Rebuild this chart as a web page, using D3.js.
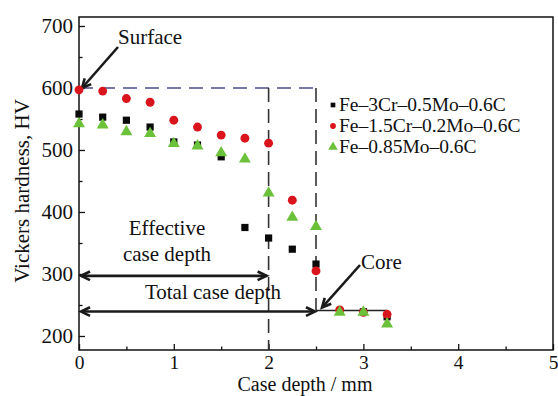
<!DOCTYPE html>
<html><head><meta charset="utf-8">
<script src="https://cdn.jsdelivr.net/npm/d3@7"></script>
<style>body{margin:0;background:#fff}svg{display:block}text{font-family:"Liberation Serif","Times New Roman",serif;fill:#111}</style>
</head><body><svg id="c" width="558" height="396"></svg>
<script>
const depth = [0,0.25,0.5,0.75,1.0,1.25,1.5,1.75,2.0,2.25,2.5,2.75,3.0,3.25];
const seriesNames = ["Fe\u20133Cr\u20130.5Mo\u20130.6C","Fe\u20131.5Cr\u20130.2Mo\u20130.6C","Fe\u20130.85Mo\u20130.6C"];
const hvCrMo = [558,553,548,537,513,508,489,375,358,340,316,240,239,231];
const hvCrMoLow = [597,595,583,577,548,537,524,519,511,419,305,242,238,235];
const hvMo = [544,542,531,528,512,508,497,487,432,393,378,240,240,221];
const xTicks = [0,1,2,3,4,5];
const yTicks = [200,300,400,500,600,700];
const surfaceHV = 600, effDepth = 2.0, totDepth = 2.5, coreHV = 241, coreEnd = 3.25, effArrowHV = 297;

const svg = d3.select("#c");
const L=79,R=553,T=17,B=350;
const x = d3.scaleLinear().domain([0,5]).range([L,R]);
const y = d3.scaleLinear().domain([177.4,714.5]).range([B,T]);

// frame
svg.append("rect").attr("x",L).attr("y",T).attr("width",R-L).attr("height",B-T).attr("fill","none").attr("stroke","#111").attr("stroke-width",1.5);

// axes
const xAxis = d3.axisBottom(x).tickValues(xTicks).tickSize(-6).tickPadding(0).tickFormat(d3.format("d"));
const gx = svg.append("g").attr("transform",`translate(0,${B})`).call(xAxis);
gx.select(".domain").remove();
gx.selectAll("text").attr("font-size",19.5).attr("y",19).attr("dy",0);
svg.append("g").attr("transform",`translate(0,${B})`).call(d3.axisBottom(x).tickValues(d3.range(0.5,5,1)).tickSize(-3.5).tickFormat(""))
  .select(".domain").remove();
const yAxis = d3.axisLeft(y).tickValues(yTicks).tickSize(-6).tickPadding(6);
const gy = svg.append("g").attr("transform",`translate(${L},0)`).call(yAxis);
gy.select(".domain").remove();
gy.selectAll("text").attr("font-size",21);
svg.append("g").attr("transform",`translate(${L},0)`).call(d3.axisLeft(y).tickValues([250,350,450,550,650]).tickSize(-3.5).tickFormat(""))
  .select(".domain").remove();
svg.selectAll(".tick line").attr("stroke","#111").attr("stroke-width",1.3);

svg.append("text").attr("x",(L+R)/2-11).attr("y",391).attr("text-anchor","middle").attr("font-size",20).text("Case depth / mm");
svg.append("text").attr("transform","translate(29,191) rotate(-90)").attr("text-anchor","middle").attr("font-size",21).text("Vickers hardness, HV");

// reference lines
svg.append("line").attr("x1",x(0)).attr("x2",x(totDepth)).attr("y1",y(surfaceHV)).attr("y2",y(surfaceHV))
  .attr("stroke","#4b4b86").attr("stroke-width",1.6).attr("stroke-dasharray","14,8");
svg.append("line").attr("x1",x(effDepth)).attr("x2",x(effDepth)).attr("y1",y(surfaceHV)).attr("y2",B)
  .attr("stroke","#333").attr("stroke-width",1.6).attr("stroke-dasharray","14,7");
svg.append("line").attr("x1",x(totDepth)).attr("x2",x(totDepth)).attr("y1",y(surfaceHV)).attr("y2",y(coreHV))
  .attr("stroke","#333").attr("stroke-width",1.6).attr("stroke-dasharray","14,7");
svg.append("line").attr("x1",x(totDepth)).attr("x2",x(coreEnd)).attr("y1",y(coreHV)).attr("y2",y(coreHV))
  .attr("stroke","#222").attr("stroke-width",1.5);

// arrows
function head(px,py,ang){
  const s=10,a=0.45;
  const p1=[px-s*Math.cos(ang-a),py-s*Math.sin(ang-a)];
  const p2=[px-s*Math.cos(ang+a),py-s*Math.sin(ang+a)];
  svg.append("path").attr("d",`M${p1}L${px},${py}L${p2}`).attr("fill","none").attr("stroke","#1a1a1a").attr("stroke-width",2.6).attr("stroke-linejoin","miter");
}
function arrow(x1,y1,x2,y2,both){
  svg.append("line").attr("x1",x1).attr("y1",y1).attr("x2",x2).attr("y2",y2).attr("stroke","#1a1a1a").attr("stroke-width",2.6);
  const ang=Math.atan2(y2-y1,x2-x1);
  head(x2,y2,ang);
  if(both) head(x1,y1,ang+Math.PI);
}
arrow(x(0)+2,y(effArrowHV),x(effDepth)-2,y(effArrowHV),true);
arrow(x(0)+2,y(coreHV)+1,x(totDepth)-1,y(coreHV)+1,true);
arrow(118,47,x(0)+3,y(surfaceHV));
arrow(360,265,x(totDepth)+6,y(coreHV)-3);

// annotation text
svg.append("text").attr("x",118).attr("y",44).attr("font-size",21).text("Surface");
svg.append("text").attr("x",167).attr("y",235).attr("text-anchor","middle").attr("font-size",21).text("Effective");
svg.append("text").attr("x",167).attr("y",261).attr("text-anchor","middle").attr("font-size",21).text("case depth");
svg.append("text").attr("x",213).attr("y",299).attr("text-anchor","middle").attr("font-size",21).text("Total case depth");
svg.append("text").attr("x",361).attr("y",269).attr("font-size",21).text("Core");

// markers
const sq = d3.symbol().type(d3.symbolSquare).size(52);
const ci = d3.symbol().type(d3.symbolCircle).size(62);
const tr = d3.symbol().type(d3.symbolTriangle).size(62);
const g = svg.append("g");
g.selectAll(".s1").data(depth.map((d,i)=>[d,hvCrMo[i]])).join("path").attr("d",sq)
  .attr("transform",d=>`translate(${x(d[0])},${y(d[1])})`).attr("fill","#0a0a0a");
g.selectAll(".s2").data(depth.map((d,i)=>[d,hvCrMoLow[i]])).join("path").attr("d",ci)
  .attr("transform",d=>`translate(${x(d[0])},${y(d[1])})`).attr("fill","#d9141c");
g.selectAll(".s3").data(depth.map((d,i)=>[d,hvMo[i]])).join("path").attr("d",tr)
  .attr("transform",d=>`translate(${x(d[0])},${y(d[1])+1})`).attr("fill","#6cc13b");

// legend
const legY=[111,132,153];
const legSym=[d3.symbol().type(d3.symbolSquare).size(22),d3.symbol().type(d3.symbolCircle).size(26),d3.symbol().type(d3.symbolTriangle).size(40)];
const legCol=["#0a0a0a","#d9141c","#6cc13b"];
seriesNames.forEach((n,i)=>{
  svg.append("path").attr("d",legSym[i]).attr("transform",`translate(333,${legY[i]-6})`).attr("fill",legCol[i]);
  svg.append("text").attr("x",339).attr("y",legY[i]).attr("font-size",19.5).text(n);
});
</script></body></html>
